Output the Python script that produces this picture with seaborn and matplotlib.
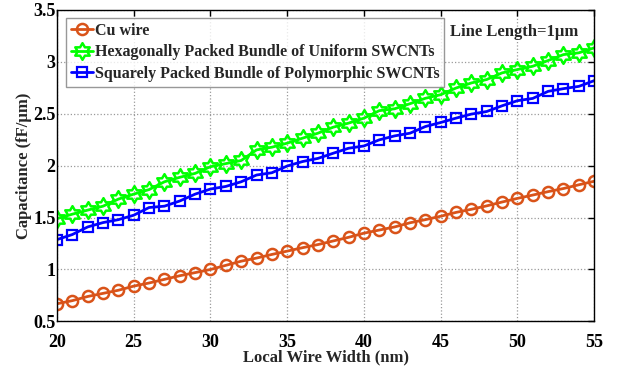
import numpy as np
import pandas as pd
import matplotlib
matplotlib.use("Agg")
import matplotlib.pyplot as plt
from matplotlib.path import Path
import seaborn as sns

width_nm = [20, 21, 22, 23, 24, 25, 26, 27, 28, 29, 30, 31, 32, 33, 34, 35, 36, 37,
            38, 39, 40, 41, 42, 43, 44, 45, 46, 47, 48, 49, 50, 51, 52, 53, 54, 55]
cu_wire = [0.67, 0.70, 0.74, 0.77, 0.80, 0.84, 0.87, 0.905, 0.94, 0.97, 1.00, 1.04,
           1.08, 1.11, 1.145, 1.177, 1.21, 1.24, 1.275, 1.31, 1.35, 1.38, 1.41, 1.45,
           1.48, 1.513, 1.55, 1.58, 1.613, 1.65, 1.685, 1.717, 1.75, 1.78, 1.816, 1.85]
hex_uniform = [1.49, 1.533, 1.572, 1.61, 1.678, 1.726, 1.77, 1.845, 1.888, 1.926, 1.99,
               2.02, 2.05, 2.152, 2.178, 2.217, 2.265, 2.313, 2.371, 2.41, 2.458, 2.53,
               2.548, 2.597, 2.649, 2.684, 2.748, 2.797, 2.83, 2.894, 2.926, 2.958,
               3.013, 3.07, 3.087, 3.135]
sq_poly = [1.288, 1.337, 1.41, 1.452, 1.48, 1.523, 1.597, 1.61, 1.66, 1.726, 1.775,
           1.80, 1.845, 1.91, 1.932, 1.997, 2.04, 2.07, 2.12, 2.168, 2.19, 2.249,
           2.287, 2.313, 2.377, 2.416, 2.458, 2.497, 2.522, 2.577, 2.626, 2.648,
           2.716, 2.742, 2.764, 2.819]
labels = ["Cu wire",
          "Hexagonally Packed Bundle of Uniform SWCNTs",
          "Squarely Packed Bundle of Polymorphic SWCNTs"]
x_ticks = [20, 25, 30, 35, 40, 45, 50, 55]
y_ticks = [0.5, 1, 1.5, 2, 2.5, 3, 3.5]

sns.set_theme(style="white")
plt.rcParams["font.family"] = ["Liberation Serif", "DejaVu Serif"]
plt.rcParams["font.weight"] = "bold"
plt.rcParams["mathtext.default"] = "regular"

# hexagram marker shape
ang_out = np.deg2rad(90 + 60 * np.arange(6))
ang_in = ang_out + np.deg2rad(30)
r_in = 1 / np.sqrt(3)
verts = []
for a_o, a_i in zip(ang_out, ang_in):
    verts.append((np.cos(a_o), np.sin(a_o)))
    verts.append((r_in * np.cos(a_i), r_in * np.sin(a_i)))
verts.append(verts[0])
codes = [Path.MOVETO] + [Path.LINETO] * 11 + [Path.CLOSEPOLY]
hexagram = Path(verts, codes)

df = pd.DataFrame({"w": width_nm, "cu": cu_wire, "hex": hex_uniform, "sq": sq_poly})

fig = plt.figure(figsize=(6.17, 3.69), dpi=100)
ax = fig.add_axes([0.0924, 0.129, 0.8706, 0.844])

sns.lineplot(data=df, x="w", y="cu", ax=ax, color="#D95319", lw=2, marker="o",
             markersize=8, markerfacecolor="none", markeredgecolor="#D95319",
             markeredgewidth=1.8, label=labels[0])
sns.lineplot(data=df, x="w", y="hex", ax=ax, color="#00FF00", lw=2, marker=hexagram,
             markersize=12, markerfacecolor="none", markeredgecolor="#00FF00",
             markeredgewidth=1.8, label=labels[1])
sns.lineplot(data=df, x="w", y="sq", ax=ax, color="#0000FF", lw=2, marker="s",
             markersize=6.5, markerfacecolor="none", markeredgecolor="#0000FF",
             markeredgewidth=1.6, label=labels[2])

ax.set_xlim(20, 55)
ax.set_ylim(0.5, 3.5)
ax.set_xticks(x_ticks)
ax.set_yticks(y_ticks)
ax.set_xticklabels([str(v) for v in x_ticks])
ax.set_yticklabels(["0.5", "1", "1.5", "2", "2.5", "3", "3.5"])
ax.grid(True, linestyle=":", color="#9a9a9a", linewidth=0.9)
ax.tick_params(direction="in", length=4, width=1, top=True, right=True,
               labelsize=13, colors="black")
ax.tick_params(axis="x", pad=9)
ax.tick_params(axis="y", pad=1)
for lab in ax.get_xticklabels() + ax.get_yticklabels():
    lab.set_fontweight("bold")
for s in ax.spines.values():
    s.set_color("black")
    s.set_linewidth(1.0)

ax.set_xlabel("Local Wire Width (nm)", fontsize=12, fontweight="bold", labelpad=-1)
ax.set_ylabel("Capacitance (fF/µm)", fontsize=12, fontweight="bold", labelpad=1)

leg = ax.legend(loc="upper left", bbox_to_anchor=(0.017, 0.974), borderaxespad=0,
                fontsize=11.5, frameon=True, fancybox=False,
                handlelength=1.4, handletextpad=0.1,
                labelspacing=0.35, borderpad=0.3)
leg.get_frame().set_edgecolor("#7f7f7f")
leg.get_frame().set_linewidth(1.0)
for t in leg.get_texts():
    t.set_fontweight("bold")

ax.text(0.970, 0.929, "Line Length=1µm", transform=ax.transAxes, ha="right",
        va="center", fontsize=12, fontweight="bold", zorder=10)

fig.savefig("out.png", dpi=100)
